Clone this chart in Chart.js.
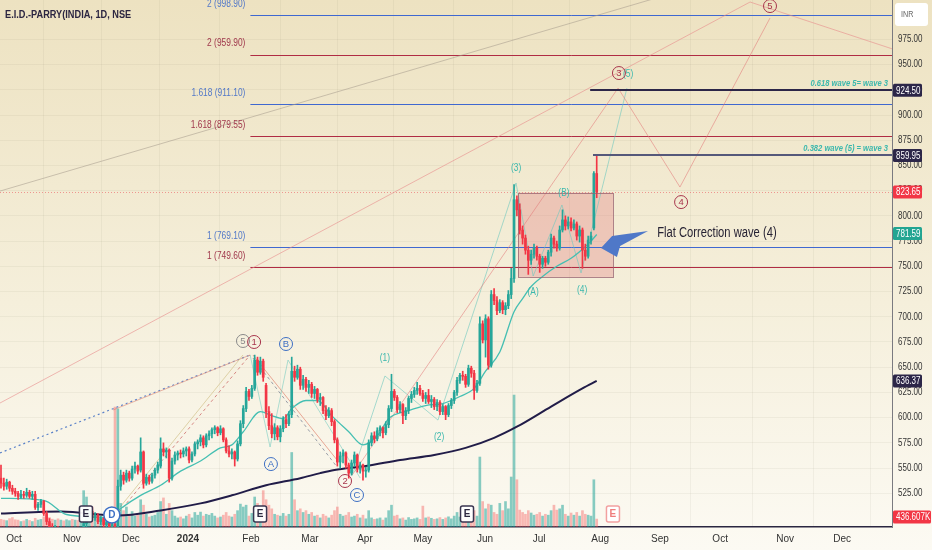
<!DOCTYPE html>
<html lang="en">
<head>
<meta charset="UTF-8">
<title>E.I.D.-PARRY(INDIA, 1D, NSE</title>
<script src="https://cdn.jsdelivr.net/npm/chart.js"></script>
<style>
  body { margin: 0; background: #f6f0dc; }
  #wrap { width: 932px; height: 550px; position: relative; }
</style>
</head>
<body>
<div id="wrap"><canvas id="chart" width="932" height="550"></canvas></div>
<script>
// daily candles, index 0 = last days of Sep 2023, last = 1 Aug 2024
const opens = [
  540,535,532,536,530,527,525,521,524,523, 526,522,524,511,514,517,505,497,491,488,
  490,484,486,482,485,487,481,484,480,485, 495,504,507,501,503,497,500,494,496,492,
  494,488,532,543,538,545,540,549,552,548, 566,535,541,537,543,548,552,569,566,568,
  540,557,563,565,564,567,569,558,564,574, 576,580,573,582,584,588,590,585,589,578,
  567,564,566,559,574,594,609,626,621,629, 657,645,656,632,606,592,584,590,581,589,
  598,594,603,646,640,648,632,638,630,633, 624,628,618,620,607,602,607,596,578,556,
  562,565,553,545,555,563,549,553,547,548, 575,582,579,587,590,585,593,609,626,620,
  608,613,602,607,619,623,627,629,624,619, 622,616,618,611,615,606,611,603,612,617,
  625,637,642,641,633,649,644,627,634,693, 677,698,652,722,716,706,714,707,711,722,
  738,816,806,786,778,766,756,762,768,760, 752,758,754,764,778,772,768,786,796,790,
  794,788,792,780,786,766,760,776,788,842
];
const highs = [
  553,540,539,537,533,530,527,528,527,530, 528,527,527,516,519,518,507,500,495,493,
  492,489,490,488,490,491,486,488,487,497, 508,510,509,506,505,502,501,498,497,496,
  496,538,548,546,548,547,552,556,553,580, 567,544,543,545,550,556,580,575,570,569,
  560,566,567,568,570,571,571,566,576,578, 583,582,584,587,590,592,591,592,590,580,
  572,569,567,577,597,612,630,628,632,662, 660,660,658,634,611,604,594,592,592,601,
  603,606,660,651,652,650,642,640,637,635, 631,629,624,621,612,610,609,598,580,566,
  568,566,555,558,566,564,556,554,551,578, 585,586,590,592,591,596,612,643,628,622,
  616,614,610,621,626,630,635,632,627,625, 628,622,620,618,617,613,612,614,619,627,
  640,644,646,643,652,651,647,637,700,696, 702,700,726,728,720,717,716,714,726,748,
  831,820,812,790,781,770,766,772,770,762, 760,760,766,782,780,775,790,806,800,799,
  798,796,794,790,788,772,780,784,844,860
];
const lows = [
  530,528,529,527,524,522,519,520,520,521, 520,519,509,508,511,503,494,488,485,482,
  481,480,479,478,481,479,476,478,477,483, 492,500,499,498,495,494,492,490,489,488,
  482,486,528,534,536,537,538,545,544,546, 530,533,534,535,540,545,550,562,560,536,
  538,554,558,560,561,562,555,556,562,569, 572,570,571,578,580,584,582,583,576,565,
  561,559,552,557,572,590,606,617,619,627, 642,643,636,600,588,580,578,578,576,586,
  590,592,600,636,638,628,628,626,624,620, 619,615,612,604,598,600,592,575,552,550,
  555,550,540,543,552,546,545,538,541,546, 572,575,577,582,580,583,590,606,617,605,
  605,594,598,604,615,620,623,622,616,614, 614,610,608,607,603,603,598,601,609,614,
  622,634,637,630,631,640,618,625,632,674, 660,648,650,712,702,704,703,702,708,718,
  734,800,782,772,762,742,752,758,756,744, 748,750,752,760,768,765,766,784,786,787,
  785,786,776,774,748,756,758,772,786,818
];
const closes = [
  535,532,536,530,527,525,522,524,523,526, 522,524,511,514,517,505,497,491,488,490,
  484,486,482,485,487,481,484,480,485,495, 504,507,501,503,497,500,494,496,492,494,
  486,532,543,538,545,540,549,552,547,566, 535,541,537,543,548,553,569,566,568,540,
  557,563,565,564,567,569,558,564,574,576, 580,573,582,584,588,590,585,589,578,567,
  564,566,559,574,594,609,626,621,629,657, 645,656,640,606,592,584,590,581,589,598,
  594,603,646,640,648,632,638,630,633,624, 628,618,620,607,602,607,596,578,556,562,
  565,553,545,555,563,549,553,547,548,575, 582,579,587,590,585,593,609,626,620,608,
  613,602,607,619,623,627,629,624,619,622, 616,618,611,615,606,611,603,612,617,625,
  637,642,641,633,649,644,627,634,693,677, 698,652,722,716,706,714,707,711,722,738,
  816,806,786,778,766,756,762,768,760,752, 758,754,764,778,772,768,786,796,790,794,
  788,792,780,786,766,760,776,780,842,823.65
];
// volume in thousands of shares
const volumes = [
  420,380,350,460,520,400,380,300,340,420, 360,300,480,380,420,560,640,520,430,380,
  450,380,340,400,350,420,380,360,450,2000, 1650,900,1100,700,620,560,480,520,430,600,
  6600,6500,1300,900,1100,700,850,600,650,1500, 1200,700,550,600,650,800,1400,1600,700,1300,
  900,600,500,550,450,600,700,500,800,650, 820,600,700,650,750,600,500,550,650,800,
  600,550,700,900,1260,1100,1200,600,750,1650, 1300,900,2000,1500,1200,1000,700,650,600,750,
  600,700,4100,1500,900,1000,800,900,700,800, 600,650,500,700,600,500,650,900,1100,700,
  600,650,800,550,600,700,500,650,450,900, 500,420,450,500,380,500,900,1200,600,650,
  450,500,380,520,420,450,500,420,1150,500, 550,480,420,450,520,420,500,560,450,600,
  800,550,450,600,700,500,900,600,3850,1400, 1000,1260,1200,800,700,1300,900,1400,1000,2750,
  7260,2600,930,800,700,900,770,650,700,800, 600,700,650,900,1200,930,1000,1200,700,600,
  770,650,800,600,900,700,650,600,2600,436.607
];

const monthTicks = [4.6, 24.9, 45.6, 65.6, 87.7, 108.4, 127.7, 148, 169.8, 188.8, 210.2, 231.2, 252.3, 275.1, 295.1];
const monthLabels = ['Oct', 'Nov', 'Dec', '2024', 'Feb', 'Mar', 'Apr', 'May', 'Jun', 'Jul', 'Aug', 'Sep', 'Oct', 'Nov', 'Dec'];
const priceTicks = [525, 550, 575, 600, 625, 650, 675, 700, 725, 750, 775, 800, 825, 850, 875, 900, 925, 950, 975];

// moving averages (bar index, value)
const emaIdx = [0, 15, 23, 38, 42, 49, 56, 63, 70, 77, 81, 85, 91, 95, 99, 102, 107, 111, 116, 122, 127, 132, 136, 143, 149, 155, 161, 166, 170, 175, 180, 183, 186, 190, 195, 200, 204, 207, 209];
const emaVal = [520, 518, 504, 501, 510, 523, 533, 547, 557, 570, 573, 586, 606, 602, 599, 609, 617, 617, 602, 586, 573, 582, 599, 607, 612, 614, 621, 629, 646, 665, 705, 718, 730, 740, 750, 758, 767, 775, 781.59];
const smaIdx = [0, 21, 41, 56, 70, 81, 93, 105, 112, 117, 128, 140, 152, 163, 173, 181, 193, 204, 209];
const smaVal = [505, 507, 503, 508, 515, 523, 533, 540, 545, 548, 552, 558, 563, 570, 580, 591, 611, 629, 636.37];

// fibonacci extension levels
const fibStart = 87.5;
const fibLevels = [998.90, 959.90, 911.10, 879.55, 769.10, 749.60];
const fibNames = ['2 (998.90)', '2 (959.90)', '1.618 (911.10)', '1.618 (879.55)', '1 (769.10)', '1 (749.60)'];
const fibKinds = ['b', 'r', 'b', 'r', 'b', 'r'];

// target lines
const targetLevels = [924.50, 859.95];
const targetStart = [206.7, 207.7];
const targetNotes = ['0.618 wave 5= wave 3', '0.382 wave (5) = wave 3'];
const lastClose = 823.65;

// wave drawings as [bar index, price]
const subWaves = [[123.2, 543.1], [134.7, 641.3], [153.3, 597.6], [180.7, 832.6], [186.7, 740.4], [196.8, 810.8], [203.5, 743.4], [219.6, 926.7]];
const abcWaves = [[87.4, 662.1], [94.4, 570.9], [100.7, 657.1], [126, 540.2]];
const projWaves = [[123.2, 543.1], [216.5, 926.7], [238.2, 828.6], [269.8, 996.1]];
const trendPink = [[-0.35, 614.5], [262.8, 1012], [326.7, 952.5]];
const trendGrey = [[-0.35, 824.6], [245.3, 1028.8]];
const legBlueDash = [[-0.35, 565], [87.4, 662.1]];
const legPink = [[39.3, 607.6], [87.4, 662.1]];
const legRedDash = [[40, 501.5], [87.4, 662.1]];
const legYellow = [[41.8, 511.4], [84.9, 662.1]];
const dropPink = [[88.4, 662.1], [117.9, 558]];
const dropGreyDash = [[88.4, 659.1], [117.9, 551.1]];
const flatBox = [181.4, 214.7, 823, 739.5];
const arrowShape = [[210.5, 768.1], [214.4, 780], [227, 785], [217.2, 770.1], [216.1, 759.2]];

// wave labels
const labelText = ['(3)', '(B)', '(A)', '(4)', '(1)', '(2)', '(5)'];
const labelIdx = [180.7, 197.5, 186.7, 203.9, 134.7, 153.7, 220];
const labelPrice = [847.4, 822.6, 724.5, 726.5, 659.1, 580.8, 940.6];
const circText = ['3', '4', '5', '5', '1', 'B', 'A', '2', 'C'];
const circIdx = [216.8, 238.6, 269.8, 84.9, 88.8, 100, 94.7, 120.7, 124.9];
const circPrice = [941.6, 813.7, 1008, 676, 675, 673, 554, 537.2, 523.3];
const circKind = ['r', 'r', 'r', 'g', 'r', 'b', 'b', 'r', 'b'];
const earningsIdx = [29.8, 90.9, 163.5, 214.7];
const dividendIdx = [38.9];

const FONT = "'Liberation Sans', Arial, sans-serif";
const NARROW = 0.8;
const UP = '#26a69a', DOWN = '#f23645';
const candleColor = closes.map((c, i) => c >= opens[i] ? UP : DOWN);
const volColor = closes.map((c, i) => c >= opens[i] ? 'rgba(38,166,154,0.55)' : 'rgba(242,90,90,0.42)');

Chart.defaults.font.family = FONT;

// draw a horizontally condensed text (the original uses a narrow face)
function narrowText(ctx, text, x, y, align) {
  ctx.save();
  ctx.translate(x, y);
  ctx.scale(NARROW, 1);
  ctx.textAlign = align || 'left';
  ctx.fillText(text, 0, 0);
  ctx.restore();
}

const bgPlugin = {
  id: 'bg',
  beforeDraw(chart) {
    const ctx = chart.ctx;
    const g = ctx.createLinearGradient(0, 0, 0, chart.height);
    g.addColorStop(0, '#ede2c1');
    g.addColorStop(0.55, '#f5efdb');
    g.addColorStop(1, '#fcfaf3');
    ctx.save();
    ctx.fillStyle = g;
    ctx.fillRect(0, 0, chart.width, chart.height);
    ctx.restore();
  }
};

function toPx(chart, p) {
  return [chart.scales.x.getPixelForValue(p[0]), chart.scales.y.getPixelForValue(p[1])];
}
function poly(chart, pts, color, width, dash) {
  const ctx = chart.ctx;
  ctx.beginPath();
  pts.forEach((p, k) => {
    const [x, y] = toPx(chart, p);
    if (k === 0) ctx.moveTo(x, y); else ctx.lineTo(x, y);
  });
  ctx.strokeStyle = color;
  ctx.lineWidth = width;
  ctx.setLineDash(dash || []);
  ctx.stroke();
  ctx.setLineDash([]);
}
function hline(chart, price, from, color, width, dash) {
  const a = chart.chartArea;
  const ctx = chart.ctx;
  const y = Math.round(chart.scales.y.getPixelForValue(price)) + (width % 2 ? 0.5 : 0);
  const x0 = from == null ? a.left : chart.scales.x.getPixelForValue(from);
  ctx.beginPath();
  ctx.moveTo(x0, y);
  ctx.lineTo(a.right, y);
  ctx.strokeStyle = color;
  ctx.lineWidth = width;
  ctx.setLineDash(dash || []);
  ctx.stroke();
  ctx.setLineDash([]);
}

const drawPlugin = {
  id: 'drawings',
  beforeDatasetsDraw(chart) {
    const ctx = chart.ctx, a = chart.chartArea;
    ctx.save();
    ctx.beginPath();
    ctx.rect(a.left, a.top, a.right - a.left, a.bottom - a.top);
    ctx.clip();

    // flat correction box
    const bx0 = chart.scales.x.getPixelForValue(flatBox[0]);
    const bx1 = chart.scales.x.getPixelForValue(flatBox[1]);
    const by0 = chart.scales.y.getPixelForValue(flatBox[2]);
    const by1 = chart.scales.y.getPixelForValue(flatBox[3]);
    ctx.fillStyle = 'rgba(226,120,125,0.33)';
    ctx.fillRect(bx0, by0, bx1 - bx0, by1 - by0);

    // fib levels
    fibLevels.forEach((lv, k) => {
      hline(chart, lv, fibStart, fibKinds[k] === 'b' ? '#3f68d0' : '#b02c44', 1);
    });
    hline(chart, lastClose, null, 'rgba(235,80,90,0.55)', 1, [1, 2]);

    // trend lines and wave legs
    poly(chart, trendGrey, 'rgba(165,155,140,0.55)', 1);
    poly(chart, trendPink, 'rgba(232,140,140,0.6)', 1);
    poly(chart, legBlueDash, '#5b82c9', 1.2, [2, 3]);
    poly(chart, legPink, 'rgba(225,150,130,0.7)', 1);
    poly(chart, legRedDash, 'rgba(200,90,90,0.7)', 1, [3, 3]);
    poly(chart, legYellow, 'rgba(215,200,150,0.8)', 1);
    poly(chart, dropPink, 'rgba(225,140,120,0.75)', 1);
    poly(chart, dropGreyDash, 'rgba(110,120,140,0.7)', 1, [3, 3]);
    poly(chart, abcWaves, 'rgba(110,200,190,0.55)', 1);
    poly(chart, subWaves, 'rgba(110,200,190,0.6)', 1);
    poly(chart, projWaves, 'rgba(225,120,120,0.55)', 1);
    ctx.restore();
  },
  afterDatasetsDraw(chart) {
    const ctx = chart.ctx, a = chart.chartArea;
    const X = v => chart.scales.x.getPixelForValue(v);
    const Y = v => chart.scales.y.getPixelForValue(v);
    ctx.save();

    // box border
    ctx.strokeStyle = 'rgba(150,95,110,0.75)';
    ctx.lineWidth = 1;
    ctx.strokeRect(Math.round(X(flatBox[0])) + 0.5, Math.round(Y(flatBox[2])) + 0.5,
      Math.round(X(flatBox[1]) - X(flatBox[0])), Math.round(Y(flatBox[3]) - Y(flatBox[2])));

    // target lines
    hline(chart, targetLevels[0], targetStart[0], '#2c2648', 2);
    hline(chart, targetLevels[1], targetStart[1], '#55587a', 2);
    ctx.font = "italic bold 9.5px " + FONT;
    ctx.fillStyle = '#3cb8ad';
    ctx.textBaseline = 'middle';
    targetNotes.forEach((t, k) => narrowText(ctx, t, a.right - 4, Y(targetLevels[k]) - 7, 'right'));

    // fib labels
    ctx.font = "10.5px " + FONT;
    fibLevels.forEach((lv, k) => {
      ctx.fillStyle = fibKinds[k] === 'b' ? '#5278c8' : '#a0384c';
      narrowText(ctx, fibNames[k], X(fibStart) - 5, Y(lv) - 11, 'right');
    });

    // arrow
    ctx.beginPath();
    arrowShape.forEach((p, k) => {
      const [x, y] = toPx(chart, p);
      if (k === 0) ctx.moveTo(x, y); else ctx.lineTo(x, y);
    });
    ctx.closePath();
    ctx.fillStyle = '#4f78c8';
    ctx.fill();
    ctx.font = "14px " + FONT;
    ctx.fillStyle = '#262233';
    narrowText(ctx, 'Flat Correction wave (4)', X(230.2), Y(783), 'left');

    // wave labels
    ctx.font = "10.5px " + FONT;
    ctx.fillStyle = '#3cb8ad';
    labelText.forEach((t, k) => narrowText(ctx, t, X(labelIdx[k]), Y(labelPrice[k]), 'center'));

    const circColors = { r: '#a8354c', b: '#3d6fc4', g: '#8a8a8a' };
    ctx.font = "9.5px " + FONT;
    circText.forEach((t, k) => {
      const x = X(circIdx[k]), y = Y(circPrice[k]);
      ctx.beginPath();
      ctx.arc(x, y, 6.5, 0, Math.PI * 2);
      ctx.strokeStyle = circColors[circKind[k]];
      ctx.lineWidth = 1;
      ctx.stroke();
      ctx.fillStyle = circColors[circKind[k]];
      ctx.textAlign = 'center';
      ctx.fillText(t, x, y + 0.5);
    });

    // dividend marker
    dividendIdx.forEach(v => {
      const x = X(v), y = a.bottom - 12;
      ctx.beginPath();
      ctx.arc(x, y, 8, 0, Math.PI * 2);
      ctx.fillStyle = '#ffffff';
      ctx.fill();
      ctx.strokeStyle = '#3d6fc4';
      ctx.lineWidth = 1.5;
      ctx.stroke();
      ctx.fillStyle = '#3d6fc4';
      ctx.font = "bold 10px " + FONT;
      ctx.fillText('D', x, y + 0.5);
    });
    // earnings markers
    earningsIdx.forEach((v, k) => {
      const last = k === earningsIdx.length - 1;
      const x = X(v), y = a.bottom - 13;
      ctx.beginPath();
      ctx.roundRect(x - 6.5, y - 8, 13, 16, 2);
      ctx.fillStyle = 'rgba(255,255,255,0.95)';
      ctx.fill();
      ctx.strokeStyle = last ? '#f2a0a0' : '#3a3550';
      ctx.lineWidth = 1.5;
      ctx.stroke();
      ctx.fillStyle = last ? '#ef7d7d' : '#2c2840';
      ctx.font = "bold 10px " + FONT;
      ctx.fillText('E', x, y + 0.5);
    });
    ctx.restore();
  },
  afterDraw(chart) {
    const ctx = chart.ctx, a = chart.chartArea;
    const Y = v => chart.scales.y.getPixelForValue(v);
    ctx.save();
    ctx.textBaseline = 'middle';
    // title
    ctx.font = "bold 11.5px " + FONT;
    ctx.fillStyle = '#2b2541';
    narrowText(ctx, 'E.I.D.-PARRY(INDIA, 1D, NSE', 5, 15, 'left');

    // price scale labels
    ctx.font = "10px " + FONT;
    ctx.fillStyle = '#333';
    priceTicks.forEach(v => narrowText(ctx, v.toFixed(2), a.right + 6, Y(v), 'left'));

    // price tags on the axis
    const tag = (y, text, bg, w) => {
      ctx.fillStyle = bg;
      ctx.beginPath();
      ctx.roundRect(a.right + 1, y - 6.5, w || 29, 13, 1.5);
      ctx.fill();
      ctx.fillStyle = '#ffffff';
      ctx.font = "10px " + FONT;
      narrowText(ctx, text, a.right + 4, y + 0.5, 'left');
    };
    tag(Y(targetLevels[0]), targetLevels[0].toFixed(2), '#2c2648');
    tag(Y(targetLevels[1]), targetLevels[1].toFixed(2), '#2c2648');
    tag(Y(lastClose), lastClose.toFixed(2), '#f23645');
    tag(Y(emaVal[emaVal.length - 1]) - 1, emaVal[emaVal.length - 1].toFixed(2), '#22a592');
    tag(Y(smaVal[smaVal.length - 1]), smaVal[smaVal.length - 1].toFixed(2), '#2c2648');
    tag(a.bottom - 10, volumes[volumes.length - 1].toFixed(3) + 'K', '#f23645', 38);

    // currency box
    ctx.fillStyle = '#ffffff';
    ctx.beginPath();
    ctx.roundRect(a.right + 3, 3, 33, 23, 3);
    ctx.fill();
    ctx.fillStyle = '#666';
    ctx.font = "9px " + FONT;
    narrowText(ctx, 'INR', a.right + 9, 15, 'left');
    ctx.restore();
  }
};

const ctx = document.getElementById('chart').getContext('2d');
new Chart(ctx, {
  type: 'bar',
  data: {
    datasets: [
      {
        label: 'Volume',
        yAxisID: 'yv',
        data: volumes.map((v, i) => ({ x: i, y: v * 1000 })),
        backgroundColor: volColor,
        barThickness: 2,
        grouped: false,
        order: 10
      },
      {
        type: 'line',
        label: 'MA 200',
        data: smaIdx.map((x, k) => ({ x: x, y: smaVal[k] })),
        borderColor: '#211c48',
        borderWidth: 2,
        pointRadius: 0,
        cubicInterpolationMode: 'monotone',
        order: 6
      },
      {
        type: 'line',
        label: 'EMA 20',
        data: emaIdx.map((x, k) => ({ x: x, y: emaVal[k] })),
        borderColor: '#45bfb2',
        borderWidth: 1.3,
        pointRadius: 0,
        cubicInterpolationMode: 'monotone',
        order: 5
      },
      {
        label: 'Wicks',
        data: lows.map((l, i) => ({ x: i, y: [l, highs[i]] })),
        backgroundColor: candleColor,
        barThickness: 1,
        grouped: false,
        order: 3
      },
      {
        label: 'Bodies',
        data: opens.map((o, i) => ({ x: i, y: [o, closes[i]] })),
        backgroundColor: candleColor,
        barThickness: 2,
        minBarLength: 1,
        grouped: false,
        order: 2
      }
    ]
  },
  options: {
    responsive: false,
    animation: false,
    layout: { padding: 0 },
    plugins: { legend: { display: false }, tooltip: { enabled: false } },
    scales: {
      x: {
        type: 'linear',
        min: -0.35,
        max: 312.6,
        offset: false,
        afterBuildTicks: axis => { axis.ticks = monthTicks.map(v => ({ value: v })); },
        afterFit: axis => { axis.height = 23; axis.paddingLeft = 0; axis.paddingRight = 0; },
        ticks: {
          autoSkip: false,
          maxRotation: 0,
          padding: 6,
          color: '#333',
          font: c => ({ size: 10, weight: monthLabels[c.index] === '2024' ? 'bold' : 'normal' }),
          callback: (v, i) => monthLabels[i]
        },
        grid: { color: 'rgba(120,110,80,0.07)', drawTicks: false },
        border: { color: '#2a2640', width: 1.5 }
      },
      y: {
        position: 'right',
        min: 491.6,
        max: 1014,
        afterBuildTicks: axis => { axis.ticks = priceTicks.map(v => ({ value: v })); },
        afterFit: axis => { axis.width = 40; axis.paddingTop = 0; axis.paddingBottom = 0; },
        ticks: { display: false },
        grid: { color: 'rgba(120,110,80,0.07)', drawTicks: false },
        border: { color: '#7a7a80', width: 1 }
      },
      yv: {
        display: false,
        min: 0,
        max: 29000000
      }
    }
  },
  plugins: [bgPlugin, drawPlugin]
});
</script>
</body>
</html>
